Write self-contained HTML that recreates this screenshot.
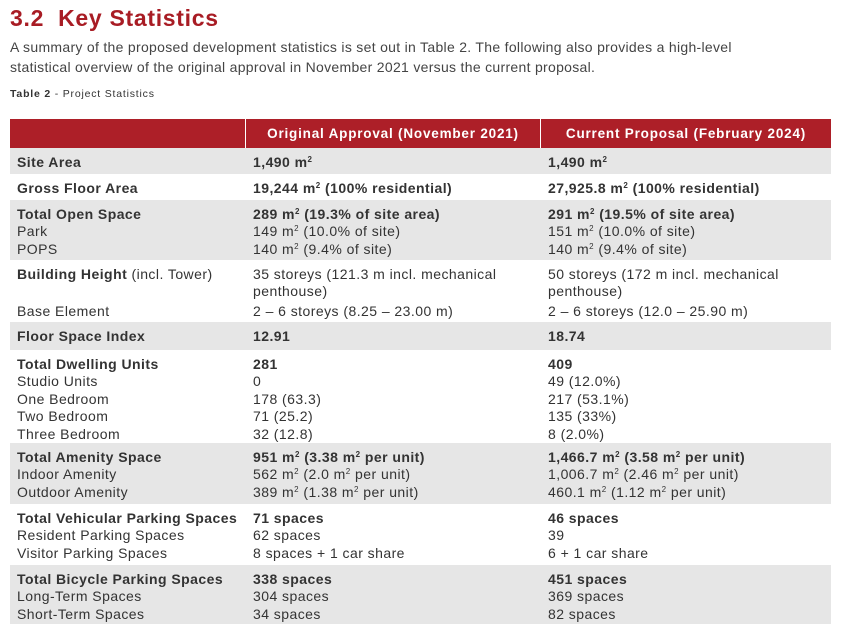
<!DOCTYPE html>
<html><head><meta charset="utf-8"><style>
*{margin:0;padding:0;box-sizing:border-box}
body{width:847px;height:641px;background:#fff;font-family:"Liberation Sans",sans-serif;color:#333;position:relative;overflow:hidden}
h1{position:absolute;left:10px;top:5px;font-size:23px;font-weight:bold;color:#a81c24;letter-spacing:0.7px}
h1 span{margin-right:14px}
.intro{position:absolute;left:10px;top:37px;font-size:14px;line-height:20px;color:#444;width:785px;letter-spacing:0.3px}
.cap{position:absolute;left:10px;top:88px;font-size:10.5px;color:#333;letter-spacing:0.8px}
.hd{position:absolute;top:119px;height:29px;background:#ad1f28;color:#fff;font-weight:bold;font-size:13.5px;line-height:29px;text-align:center;letter-spacing:0.8px}
.row{position:absolute;left:10px;width:821px}
.g{background:#e6e6e6}
.c{position:absolute;top:0;font-size:14px;line-height:17.4px;padding-top:6px;color:#333;white-space:nowrap;letter-spacing:0.45px}
.c b{letter-spacing:0.45px}
.c1{left:7px}.c2{left:243px}.c3{left:538px}
b{font-weight:bold}
sup{font-size:8px;vertical-align:5px;line-height:0}
.gap{margin-top:2px}
</style></head><body>
<h1><span>3.2</span>Key Statistics</h1>
<div class="intro">A summary of the proposed development statistics is set out in Table 2. The following also provides a high-level statistical overview of the original approval in November 2021 versus the current proposal.</div>
<div class="cap"><b>Table 2</b> - Project Statistics</div>
<div class="hd" style="left:10px;width:235px"></div>
<div class="hd" style="left:246px;width:294px">Original Approval (November 2021)</div>
<div class="hd" style="left:541px;width:290px">Current Proposal (February 2024)</div>

<div class="row g" style="top:148px;height:26px"><div class="c c1"><b>Site Area</b></div><div class="c c2"><b>1,490 m<sup>2</sup></b></div><div class="c c3"><b>1,490 m<sup>2</sup></b></div></div>
<div class="row" style="top:174px;height:26px"><div class="c c1"><b>Gross Floor Area</b></div><div class="c c2"><b>19,244 m<sup>2</sup> (100% residential)</b></div><div class="c c3"><b>27,925.8 m<sup>2</sup> (100% residential)</b></div></div>
<div class="row g" style="top:200px;height:60px"><div class="c c1"><b>Total Open Space</b><br>Park<br>POPS</div><div class="c c2"><b>289 m<sup>2</sup> (19.3% of site area)</b><br>149 m<sup>2</sup> (10.0% of site)<br>140 m<sup>2</sup> (9.4% of site)</div><div class="c c3"><b>291 m<sup>2</sup> (19.5% of site area)</b><br>151 m<sup>2</sup> (10.0% of site)<br>140 m<sup>2</sup> (9.4% of site)</div></div>
<div class="row" style="top:260px;height:62px"><div class="c c1"><b>Building Height</b> (incl. Tower)<br><br><div class="gap">Base Element</div></div><div class="c c2">35 storeys (121.3 m incl. mechanical<br>penthouse)<div class="gap">2 – 6 storeys (8.25 – 23.00 m)</div></div><div class="c c3">50 storeys (172 m incl. mechanical<br>penthouse)<div class="gap">2 – 6 storeys (12.0 – 25.90 m)</div></div></div>
<div class="row g" style="top:322px;height:28px"><div class="c c1"><b>Floor Space Index</b></div><div class="c c2"><b>12.91</b></div><div class="c c3"><b>18.74</b></div></div>
<div class="row" style="top:350px;height:93px"><div class="c c1"><b>Total Dwelling Units</b><br>Studio Units<br>One Bedroom<br>Two Bedroom<br>Three Bedroom</div><div class="c c2"><b>281</b><br>0<br>178 (63.3)<br>71 (25.2)<br>32 (12.8)</div><div class="c c3"><b>409</b><br>49 (12.0%)<br>217 (53.1%)<br>135 (33%)<br>8 (2.0%)</div></div>
<div class="row g" style="top:443px;height:61px"><div class="c c1"><b>Total Amenity Space</b><br>Indoor Amenity<br>Outdoor Amenity</div><div class="c c2"><b>951 m<sup>2</sup> (3.38 m<sup>2</sup> per unit)</b><br>562 m<sup>2</sup> (2.0 m<sup>2</sup> per unit)<br>389 m<sup>2</sup> (1.38 m<sup>2</sup> per unit)</div><div class="c c3"><b>1,466.7 m<sup>2</sup> (3.58 m<sup>2</sup> per unit)</b><br>1,006.7 m<sup>2</sup> (2.46 m<sup>2</sup> per unit)<br>460.1 m<sup>2</sup> (1.12 m<sup>2</sup> per unit)</div></div>
<div class="row" style="top:504px;height:61px"><div class="c c1"><b>Total Vehicular Parking Spaces</b><br>Resident Parking Spaces<br>Visitor Parking Spaces</div><div class="c c2"><b>71 spaces</b><br>62 spaces<br>8 spaces + 1 car share</div><div class="c c3"><b>46 spaces</b><br>39<br>6 + 1 car share</div></div>
<div class="row g" style="top:565px;height:59px"><div class="c c1"><b>Total Bicycle Parking Spaces</b><br>Long-Term Spaces<br>Short-Term Spaces</div><div class="c c2"><b>338 spaces</b><br>304 spaces<br>34 spaces</div><div class="c c3"><b>451 spaces</b><br>369 spaces<br>82 spaces</div></div>
</body></html>
